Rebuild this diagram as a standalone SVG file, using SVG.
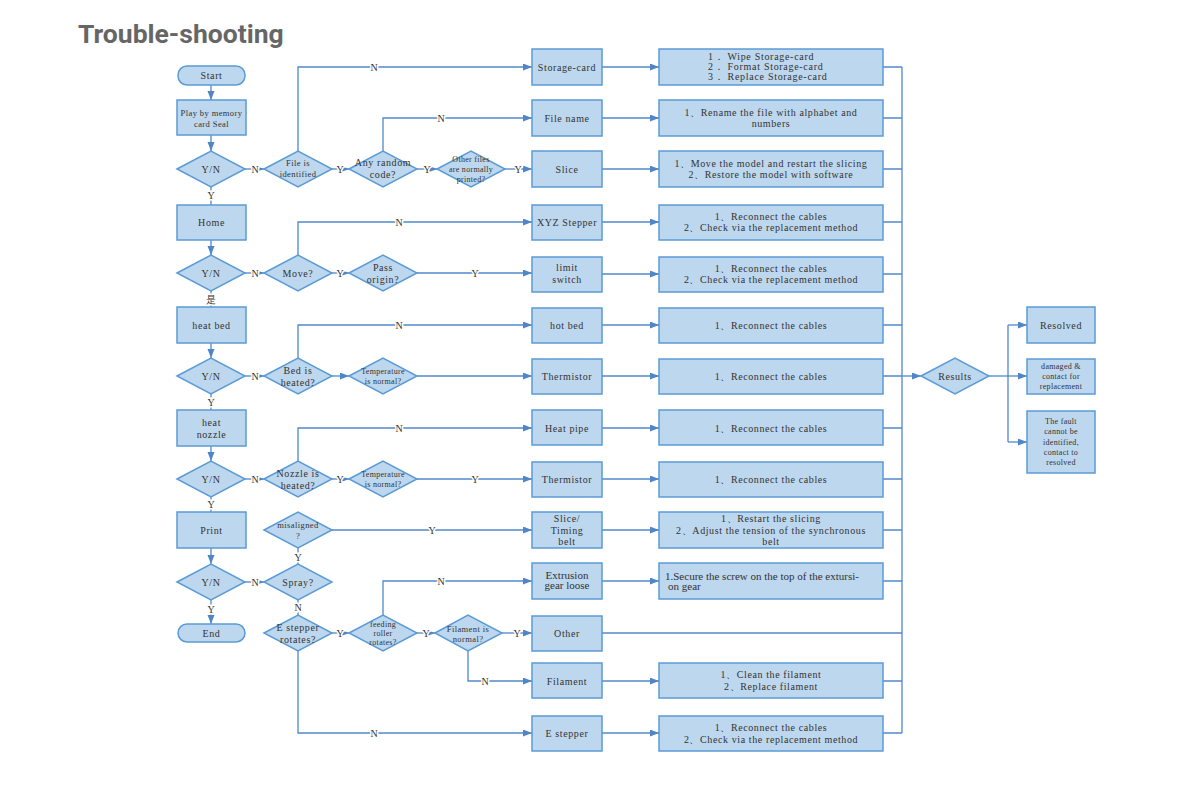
<svg xmlns="http://www.w3.org/2000/svg" width="1191" height="794" viewBox="0 0 1191 794">
<style>
.bx{fill:#bdd7ee;stroke:#5b9bd5;stroke-width:1.5}
.ln{fill:none;stroke:#5188cb;stroke-width:1.3}
.t{font-family:"Liberation Serif",serif;font-size:10px;fill:#333;letter-spacing:0.6px;text-anchor:middle}
.s{font-size:8.5px;letter-spacing:0.4px}
.xs{font-size:8px;letter-spacing:0.3px}
.st{font-family:"Liberation Serif",serif;font-size:10px;fill:#333;letter-spacing:0.7px}
.tm{font-family:"Liberation Serif",serif;font-size:11px;fill:#333;letter-spacing:0}
.lb{font-family:"Liberation Serif",serif;font-size:10px;fill:#333;text-anchor:middle;stroke:#fff;stroke-width:3px;paint-order:stroke}
</style>
<defs>
<marker id="ar" markerUnits="userSpaceOnUse" markerWidth="10" markerHeight="8" refX="9" refY="3.5" orient="auto">
<path d="M0,0 L9,3.5 L0,7 z" fill="#4f86c9"/>
</marker>
</defs>
<rect width="1191" height="794" fill="#fff"/>
<text x="78" y="43" font-family="Roboto,'Liberation Sans',sans-serif" font-weight="bold" font-size="26.5" fill="#666">Trouble-shooting</text>

<g id="connectors">
<path class="ln" d="M211,85 V100" marker-end="url(#ar)"/>
<path class="ln" d="M211,135 V151" marker-end="url(#ar)"/>
<path class="ln" d="M211,187 V205"/>
<path class="ln" d="M211,240 V255" marker-end="url(#ar)"/>
<path class="ln" d="M211,291 V307"/>
<path class="ln" d="M211,343 V358" marker-end="url(#ar)"/>
<path class="ln" d="M211,394 V410"/>
<path class="ln" d="M211,446 V461" marker-end="url(#ar)"/>
<path class="ln" d="M211,497 V512"/>
<path class="ln" d="M211,548 V564" marker-end="url(#ar)"/>
<path class="ln" d="M211,600 V624" marker-end="url(#ar)"/>
<path class="ln" d="M245,169 H264" marker-end="url(#ar)"/>
<path class="ln" d="M245,273 H264" marker-end="url(#ar)"/>
<path class="ln" d="M245,376 H264" marker-end="url(#ar)"/>
<path class="ln" d="M245,479 H264" marker-end="url(#ar)"/>
<path class="ln" d="M245,582 H264" marker-end="url(#ar)"/>
<path class="ln" d="M298,151 V67 H532" marker-end="url(#ar)"/>
<path class="ln" d="M332,169 H349" marker-end="url(#ar)"/>
<path class="ln" d="M383,151 V118 H532" marker-end="url(#ar)"/>
<path class="ln" d="M417,169 H437" marker-end="url(#ar)"/>
<path class="ln" d="M505,169 H532" marker-end="url(#ar)"/>
<path class="ln" d="M298,255 V222 H532" marker-end="url(#ar)"/>
<path class="ln" d="M332,273 H349" marker-end="url(#ar)"/>
<path class="ln" d="M417,273 H532" marker-end="url(#ar)"/>
<path class="ln" d="M298,358 V325 H532" marker-end="url(#ar)"/>
<path class="ln" d="M332,376 H349" marker-end="url(#ar)"/>
<path class="ln" d="M417,376 H532" marker-end="url(#ar)"/>
<path class="ln" d="M298,461 V428 H532" marker-end="url(#ar)"/>
<path class="ln" d="M332,479 H349" marker-end="url(#ar)"/>
<path class="ln" d="M417,479 H532" marker-end="url(#ar)"/>
<path class="ln" d="M332,530 H532" marker-end="url(#ar)"/>
<path class="ln" d="M298,564 V548"/>
<path class="ln" d="M298,600 V615"/>
<path class="ln" d="M383,615 V581 H532" marker-end="url(#ar)"/>
<path class="ln" d="M332,633 H349" marker-end="url(#ar)"/>
<path class="ln" d="M417,633 H435" marker-end="url(#ar)"/>
<path class="ln" d="M502,633 H532" marker-end="url(#ar)"/>
<path class="ln" d="M468,651 V681 H532" marker-end="url(#ar)"/>
<path class="ln" d="M298,651 V733 H532" marker-end="url(#ar)"/>
<path class="ln" d="M602,67 H659" marker-end="url(#ar)"/>
<path class="ln" d="M602,118 H659" marker-end="url(#ar)"/>
<path class="ln" d="M602,169 H659" marker-end="url(#ar)"/>
<path class="ln" d="M602,222 H659" marker-end="url(#ar)"/>
<path class="ln" d="M602,274 H659" marker-end="url(#ar)"/>
<path class="ln" d="M602,325 H659" marker-end="url(#ar)"/>
<path class="ln" d="M602,376 H659" marker-end="url(#ar)"/>
<path class="ln" d="M602,428 H659" marker-end="url(#ar)"/>
<path class="ln" d="M602,479 H659" marker-end="url(#ar)"/>
<path class="ln" d="M602,530 H659" marker-end="url(#ar)"/>
<path class="ln" d="M602,581 H659" marker-end="url(#ar)"/>
<path class="ln" d="M602,681 H659" marker-end="url(#ar)"/>
<path class="ln" d="M602,733 H659" marker-end="url(#ar)"/>
<path class="ln" d="M883,67 H902 M883,118 H902 M883,169 H902 M883,222 H902 M883,274 H902 M883,325 H902 M883,376 H902 M883,428 H902 M883,479 H902 M883,530 H902 M883,581 H902 M602,633 H902 M883,681 H902 M883,733 H902"/>
<path class="ln" d="M902,67 V733"/>
<path class="ln" d="M902,376 H921" marker-end="url(#ar)"/>
<path class="ln" d="M989,376 H1008"/>
<path class="ln" d="M1008,325 V442"/>
<path class="ln" d="M1008,325 H1027" marker-end="url(#ar)"/>
<path class="ln" d="M1008,376 H1027" marker-end="url(#ar)"/>
<path class="ln" d="M1008,442 H1027" marker-end="url(#ar)"/>
<text class="lb" x="255" y="173">N</text>
<text class="lb" x="374" y="71">N</text>
<text class="lb" x="340" y="173">Y</text>
<text class="lb" x="441" y="122">N</text>
<text class="lb" x="427" y="173">Y</text>
<text class="lb" x="518" y="173">Y</text>
<text class="lb" x="211" y="199">Y</text>
<text class="lb" x="255" y="277">N</text>
<text class="lb" x="399" y="226">N</text>
<text class="lb" x="340" y="277">Y</text>
<text class="lb" x="475" y="277">Y</text>
<text class="lb" x="211" y="303" font-family="'Noto Sans CJK SC',sans-serif" font-size="9">是</text>
<text class="lb" x="255" y="380">N</text>
<text class="lb" x="399" y="329">N</text>
<text class="lb" x="211" y="406">Y</text>
<text class="lb" x="255" y="483">N</text>
<text class="lb" x="399" y="432">N</text>
<text class="lb" x="340" y="483">Y</text>
<text class="lb" x="475" y="483">Y</text>
<text class="lb" x="211" y="508">Y</text>
<text class="lb" x="432" y="534">Y</text>
<text class="lb" x="298" y="561">Y</text>
<text class="lb" x="255" y="586">N</text>
<text class="lb" x="211" y="613">Y</text>
<text class="lb" x="298" y="611">N</text>
<text class="lb" x="441" y="585">N</text>
<text class="lb" x="340" y="637">Y</text>
<text class="lb" x="426" y="637">Y</text>
<text class="lb" x="517" y="637">Y</text>
<text class="lb" x="485" y="685">N</text>
<text class="lb" x="374" y="737">N</text>
</g>

<g id="start"><rect class="bx" x="178" y="66" width="67" height="19" rx="9"/><text class="t" x="211.5" y="79">Start</text></g>
<g id="play"><rect class="bx" x="177" y="100" width="69" height="35"/><text class="t s" x="211.5" y="116">Play by memory</text><text class="t s" x="211.5" y="127">card Seal</text></g>
<g id="yn1"><polygon class="bx" points="177,169 211,151 245,169 211,187"/><text class="t" x="211" y="173">Y/N</text></g>
<g id="home"><rect class="bx" x="177" y="205" width="69" height="35"/><text class="t" x="211.5" y="226">Home</text></g>
<g id="yn2"><polygon class="bx" points="177,273 211,255 245,273 211,291"/><text class="t" x="211" y="277">Y/N</text></g>
<g id="heatbed"><rect class="bx" x="177" y="307" width="69" height="36"/><text class="t" x="211.5" y="329">heat bed</text></g>
<g id="yn3"><polygon class="bx" points="177,376 211,358 245,376 211,394"/><text class="t" x="211" y="380">Y/N</text></g>
<g id="heatnozzle"><rect class="bx" x="177" y="410" width="69" height="36"/><text class="t" x="211.5" y="426">heat</text><text class="t" x="211.5" y="438">nozzle</text></g>
<g id="yn4"><polygon class="bx" points="177,479 211,461 245,479 211,497"/><text class="t" x="211" y="483">Y/N</text></g>
<g id="print"><rect class="bx" x="177" y="512" width="69" height="36"/><text class="t" x="211.5" y="534">Print</text></g>
<g id="yn5"><polygon class="bx" points="177,582 211,564 245,582 211,600"/><text class="t" x="211" y="586">Y/N</text></g>
<g id="end"><rect class="bx" x="178" y="624" width="67" height="18" rx="9"/><text class="t" x="211.5" y="637">End</text></g>

<g id="fileident"><polygon class="bx" points="264,169 298,151 332,169 298,187"/><text class="t s" x="298" y="166">File is</text><text class="t s" x="298" y="177">identified</text></g>
<g id="move"><polygon class="bx" points="264,273 298,255 332,273 298,291"/><text class="t" x="298" y="277">Move?</text></g>
<g id="bedheated"><polygon class="bx" points="264,376 298,358 332,376 298,394"/><text class="t" x="298" y="374">Bed is</text><text class="t" x="298" y="386">heated?</text></g>
<g id="nozzleheated"><polygon class="bx" points="264,479 298,461 332,479 298,497"/><text class="t" x="298" y="477">Nozzle is</text><text class="t" x="298" y="489">heated?</text></g>
<g id="misaligned"><polygon class="bx" points="264,530 298,512 332,530 298,548"/><text class="t s" x="298" y="528">misaligned</text><text class="t s" x="298" y="539">?</text></g>
<g id="spray"><polygon class="bx" points="264,582 298,564 332,582 298,600"/><text class="t" x="298" y="586">Spray?</text></g>
<g id="estepperrot"><polygon class="bx" points="264,633 298,615 332,633 298,651"/><text class="t" x="298" y="631">E stepper</text><text class="t" x="298" y="643">rotates?</text></g>

<g id="randomcode"><polygon class="bx" points="349,169 383,151 417,169 383,187"/><text class="t" x="383" y="166">Any random</text><text class="t" x="383" y="178">code?</text></g>
<g id="passorigin"><polygon class="bx" points="349,273 383,255 417,273 383,291"/><text class="t" x="383" y="271">Pass</text><text class="t" x="383" y="283">origin?</text></g>
<g id="temp1"><polygon class="bx" points="349,376 383,358 417,376 383,394"/><text class="t xs" x="383" y="374">Temperature</text><text class="t xs" x="383" y="384">is normal?</text></g>
<g id="temp2"><polygon class="bx" points="349,479 383,461 417,479 383,497"/><text class="t xs" x="383" y="477">Temperature</text><text class="t xs" x="383" y="487">is normal?</text></g>
<g id="feedingroller"><polygon class="bx" points="349,633 383,615 417,633 383,651"/><text class="t xs" x="383" y="627">feeding</text><text class="t xs" x="383" y="636">roller</text><text class="t xs" x="383" y="645">rotates?</text></g>

<g id="otherfiles"><polygon class="bx" points="437,169 471,151 505,169 471,187"/><text class="t xs" x="471" y="162">Other files</text><text class="t xs" x="471" y="172">are normally</text><text class="t xs" x="471" y="182">printed?</text></g>
<g id="filamentnormal"><polygon class="bx" points="435,633 468,615 502,633 468,651"/><text class="t s" x="468" y="632">Filament is</text><text class="t s" x="468" y="642">normal?</text></g>

<g id="storagecard"><rect class="bx" x="532" y="49" width="70" height="36"/><text class="t" x="567" y="71">Storage-card</text></g>
<g id="filename"><rect class="bx" x="532" y="100" width="70" height="36"/><text class="t" x="567" y="122">File name</text></g>
<g id="slice"><rect class="bx" x="532" y="151" width="70" height="36"/><text class="t" x="567" y="173">Slice</text></g>
<g id="xyzstepper"><rect class="bx" x="532" y="205" width="70" height="35"/><text class="t" x="567" y="226">XYZ Stepper</text></g>
<g id="limitswitch"><rect class="bx" x="532" y="257" width="70" height="35"/><text class="t" x="567" y="271">limit</text><text class="t" x="567" y="283">switch</text></g>
<g id="hotbed"><rect class="bx" x="532" y="308" width="70" height="35"/><text class="t" x="567" y="329">hot bed</text></g>
<g id="thermistor1"><rect class="bx" x="532" y="359" width="70" height="35"/><text class="t" x="567" y="380">Thermistor</text></g>
<g id="heatpipe"><rect class="bx" x="532" y="410" width="70" height="35"/><text class="t" x="567" y="432">Heat pipe</text></g>
<g id="thermistor2"><rect class="bx" x="532" y="462" width="70" height="35"/><text class="t" x="567" y="483">Thermistor</text></g>
<g id="slicetiming"><rect class="bx" x="532" y="512" width="70" height="36"/><text class="t" x="567" y="522">Slice/</text><text class="t" x="567" y="534">Timing</text><text class="t" x="567" y="545">belt</text></g>
<g id="extrusion"><rect class="bx" x="532" y="563" width="70" height="36"/><text class="tm" x="567" y="579" text-anchor="middle">Extrusion</text><text class="tm" x="567" y="589" text-anchor="middle">gear loose</text></g>
<g id="other"><rect class="bx" x="532" y="616" width="70" height="35"/><text class="t" x="567" y="637">Other</text></g>
<g id="filament"><rect class="bx" x="532" y="663" width="70" height="35"/><text class="t" x="567" y="685">Filament</text></g>
<g id="estepper"><rect class="bx" x="532" y="716" width="70" height="35"/><text class="t" x="567" y="737">E stepper</text></g>

<g id="r-storage"><rect class="bx" x="659" y="49" width="224" height="36"/><text class="st" x="708" y="60">1． Wipe Storage-card</text><text class="st" x="708" y="70">2． Format Storage-card</text><text class="st" x="708" y="80">3． Replace Storage-card</text></g>
<g id="r-filename"><rect class="bx" x="659" y="100" width="224" height="36"/><text class="t" x="771" y="116">1、Rename the file with alphabet and</text><text class="t" x="771" y="127">numbers</text></g>
<g id="r-slice"><rect class="bx" x="659" y="151" width="224" height="36"/><text class="t" x="771" y="167">1、Move the model and restart the slicing</text><text class="t" x="771" y="178">2、Restore the model with software</text></g>
<g id="r-xyz"><rect class="bx" x="659" y="205" width="224" height="35"/><text class="t" x="771" y="220">1、Reconnect the cables</text><text class="t" x="771" y="231">2、Check via the replacement method</text></g>
<g id="r-limit"><rect class="bx" x="659" y="257" width="224" height="35"/><text class="t" x="771" y="272">1、Reconnect the cables</text><text class="t" x="771" y="283">2、Check via the replacement method</text></g>
<g id="r-hotbed"><rect class="bx" x="659" y="308" width="224" height="35"/><text class="t" x="771" y="329">1、Reconnect the cables</text></g>
<g id="r-therm1"><rect class="bx" x="659" y="359" width="224" height="35"/><text class="t" x="771" y="380">1、Reconnect the cables</text></g>
<g id="r-heatpipe"><rect class="bx" x="659" y="410" width="224" height="35"/><text class="t" x="771" y="432">1、Reconnect the cables</text></g>
<g id="r-therm2"><rect class="bx" x="659" y="462" width="224" height="35"/><text class="t" x="771" y="483">1、Reconnect the cables</text></g>
<g id="r-slicetiming"><rect class="bx" x="659" y="512" width="224" height="36"/><text class="t" x="771" y="522">1、Restart the slicing</text><text class="t" x="771" y="534">2、Adjust the tension of the synchronous</text><text class="t" x="771" y="545">belt</text></g>
<g id="r-extrusion"><rect class="bx" x="659" y="563" width="224" height="36"/><text class="tm" x="665" y="580">1.Secure the screw on the top of the extursi-</text><text class="tm" x="668" y="590">on gear</text></g>
<g id="r-filament"><rect class="bx" x="659" y="663" width="224" height="35"/><text class="t" x="771" y="678">1、Clean the filament</text><text class="t" x="771" y="690">2、Replace filament</text></g>
<g id="r-estepper"><rect class="bx" x="659" y="716" width="224" height="35"/><text class="t" x="771" y="731">1、Reconnect the cables</text><text class="t" x="771" y="743">2、Check via the replacement method</text></g>

<g id="results"><polygon class="bx" points="921,376 955,358 989,376 955,394"/><text class="t" x="955" y="380">Results</text></g>
<g id="resolved"><rect class="bx" x="1027" y="307" width="68" height="36"/><text class="t" x="1061" y="329">Resolved</text></g>
<g id="damaged"><rect class="bx" x="1027" y="359" width="68" height="35"/><text class="t xs" x="1061" y="369">damaged &amp;</text><text class="t xs" x="1061" y="379">contact for</text><text class="t xs" x="1061" y="389">replacement</text></g>
<g id="fault"><rect class="bx" x="1027" y="411" width="68" height="62"/><text class="t xs" x="1061" y="424">The fault</text><text class="t xs" x="1061" y="434">cannot be</text><text class="t xs" x="1061" y="445">identified,</text><text class="t xs" x="1061" y="455">contact to</text><text class="t xs" x="1061" y="465">resolved</text></g>
</svg>
